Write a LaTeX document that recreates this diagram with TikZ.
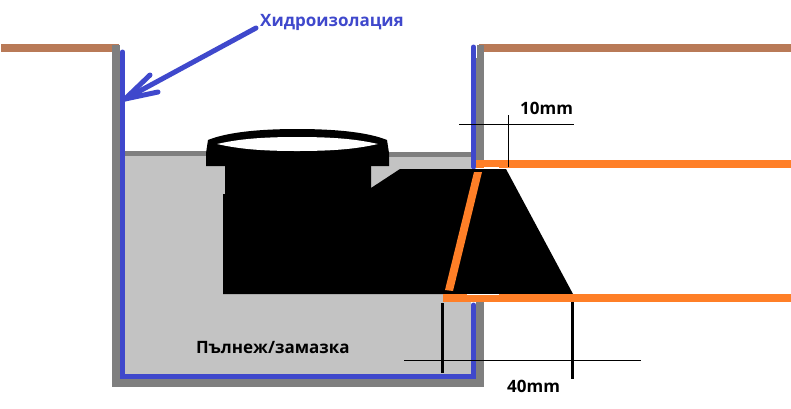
\documentclass[tikz,border=0pt]{standalone}
\usepackage{fontspec}
\setmainfont{Open Sans}
\definecolor{soil}{HTML}{B97A57}
\definecolor{wallgrey}{HTML}{7F7F7F}
\definecolor{fillgrey}{HTML}{C3C3C3}
\definecolor{proofblue}{HTML}{3F48CC}
\definecolor{mark}{HTML}{FF7F27}
\tikzset{
  soilbar/.style={fill=soil,draw=none},
  wallbar/.style={fill=wallgrey,draw=none},
  bluebar/.style={draw=proofblue,line width=5,line cap=round,line join=miter},
  orangebar/.style={fill=mark,draw=none},
  thindim/.style={draw=black,line width=1},
  thickdim/.style={draw=black,line width=3},
  lbl/.style={inner sep=0pt,font=\fontsize{17}{20}\selectfont\bfseries},
}
\begin{document}
\begin{tikzpicture}[x=1pt,y=-1pt]
\useasboundingbox (0,0) rectangle (791,408);
\fill[white] (0,0) rectangle (791,408);
% soil
\fill[soilbar] (1,44) rectangle (119,52);
\fill[soilbar] (479,44) rectangle (791,52);
% fill
\fill[fillgrey] (125,155) rectangle (471,374);
% walls
\fill[wallbar] (112,45) rectangle (120,387);
\fill[wallbar] (112,379) rectangle (484,387);
\fill[wallbar] (477,45) rectangle (484,58);
\fill[wallbar] (476,58) rectangle (484,166);
\fill[wallbar] (476,300) rectangle (484,387);
\fill[wallbar] (125,151) rectangle (206,156);
\fill[wallbar] (387,152) rectangle (472,157);
% blue lining
\draw[bluebar] (122.5,52) -- (122.5,376.5) -- (473.5,376.5) -- (473.5,305);
\draw[bluebar] (473.5,47) -- (473.5,167);
% fitting
\fill[black] (223,294) -- (223,194) -- (225,194) -- (225,165) -- (371,165) -- (371,188) -- (400,169) -- (506,169) -- (573,294) -- cycle;
\fill[black] (206,166) -- (206,153) -- (208,140) .. controls (225,133) and (255,129) .. (297,129) .. controls (340,129) and (370,133) .. (387,140) -- (389,153) -- (389,166) -- cycle;
\fill[white] (217,144) .. controls (235,140) and (255,137) .. (297,137) .. controls (340,137) and (360,140) .. (378,144) .. controls (360,148) and (340,151) .. (297,151) .. controls (255,151) and (235,148) .. (217,144) -- cycle;
% orange
\fill[orangebar] (476,160) rectangle (791,168);
\fill[orangebar] (443,294) rectangle (791,302);
\fill[white] (484,167) rectangle (499,168.5);
\fill[white] (467,293.5) rectangle (499,294.5);
\fill[orangebar] (474,172) -- (482,172) -- (453,291) -- (445,290) -- cycle;
% dimension lines
\draw[thindim] (459,124) -- (574,124);
\draw[thindim] (508.5,115) -- (508.5,167);
\draw[thindim] (404,360.5) -- (641,360.5);
\draw[thickdim] (442.5,303) -- (442.5,373);
\draw[thickdim] (572.5,302) -- (572.5,379);
% leader arrow
\coordinate (leaderstart) at (256,28);
\coordinate (leaderend) at (125,99);
\draw[proofblue,line width=5,line cap=round,line join=round] (leaderstart) -- (leaderend);
\draw[proofblue,line width=5,line cap=round,line join=round] (150,75) -- (leaderend) -- (158,92);
% labels
\node[lbl,text=proofblue,anchor=west] (waterproofing) at (260,22.5) {Хидроизолация};
\node[lbl,anchor=west] (tenmm) at (520,108.5) {10mm};
\node[lbl,anchor=west] (filling) at (196,348) {Пълнеж/замазка};
\node[lbl,anchor=west] (fortymm) at (507,386) {40mm};
\end{tikzpicture}
\end{document}
